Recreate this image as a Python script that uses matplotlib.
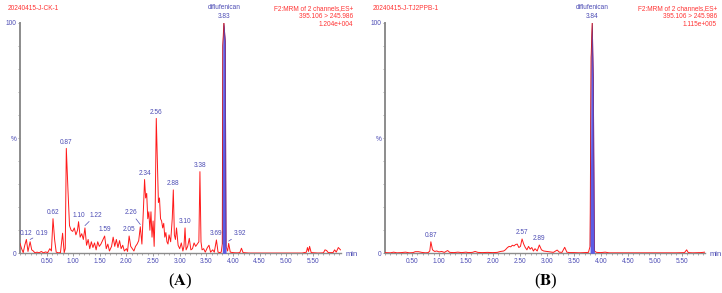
import numpy as np
import matplotlib
matplotlib.use("Agg")
import matplotlib.pyplot as plt
from matplotlib.ticker import MultipleLocator, FixedLocator

plt.rcParams['font.family'] = ['Liberation Sans', 'DejaVu Sans']
plt.rcParams['mathtext.fontset'] = 'stix'

# colours
trace_red = "#ff1a1a"
label_blue = "#4b4bb4"
text_red = "#ff3333"
axis_gray = "#8c8c8c"
peak_blue = "#5c5ce6"

# panel A: 20240415-J-CK-1 (time in min, relative intensity %)
time_a = [0.00, 0.03, 0.06, 0.09, 0.12, 0.15, 0.19, 0.22, 0.25, 0.28, 0.32, 0.36, 0.40, 0.44,
          0.48, 0.52, 0.56, 0.59, 0.62, 0.65, 0.68, 0.72, 0.76, 0.80, 0.83, 0.85, 0.87, 0.90,
          0.93, 0.96, 0.99, 1.02, 1.05, 1.08, 1.10, 1.13, 1.16, 1.19, 1.22, 1.25, 1.28, 1.31,
          1.34, 1.37, 1.40, 1.43, 1.46, 1.49, 1.52, 1.55, 1.59, 1.62, 1.65, 1.68, 1.72, 1.75,
          1.78, 1.81, 1.84, 1.87, 1.90, 1.93, 1.96, 2.00, 2.02, 2.05, 2.08, 2.11, 2.14, 2.17,
          2.20, 2.23, 2.26, 2.29, 2.32, 2.34, 2.36, 2.38, 2.40, 2.42, 2.44, 2.46, 2.48, 2.50,
          2.52, 2.54, 2.56, 2.58, 2.60, 2.62, 2.64, 2.66, 2.68, 2.70, 2.72, 2.74, 2.76, 2.78,
          2.80, 2.83, 2.86, 2.88, 2.90, 2.92, 2.94, 2.97, 3.00, 3.03, 3.06, 3.08, 3.10, 3.12,
          3.15, 3.18, 3.21, 3.24, 3.27, 3.30, 3.33, 3.36, 3.38, 3.40, 3.42, 3.45, 3.48, 3.52,
          3.55, 3.58, 3.62, 3.65, 3.69, 3.72, 3.75, 3.78, 3.80, 3.81, 3.83, 3.855, 3.87, 3.90,
          3.92, 3.95, 4.00, 4.05, 4.10, 4.13, 4.16, 4.19, 4.30, 4.60, 5.00, 5.30, 5.38, 5.40,
          5.42, 5.44, 5.47, 5.60, 5.70, 5.73, 5.76, 5.79, 5.88, 5.91, 5.94, 5.98, 6.02]
inten_a = [4.3, 2.0, 0.3, 3.5, 6.0, 0.8, 5.0, 1.5, 1.0, 0.2, 0.5, 0.2, 0.8, 0.2,
           0.6, 0.3, 2.0, 1.0, 15.0, 6.0, 0.5, 0.2, 0.3, 8.7, 0.3, 2.0, 45.5, 28.0,
           12.0, 10.0, 9.5, 11.0, 8.0, 10.0, 13.7, 7.0, 8.5, 6.0, 11.0, 3.5, 6.0, 2.0,
           5.0, 2.5, 4.5, 1.5, 5.0, 3.0, 4.0, 5.5, 7.5, 2.0, 4.0, 1.0, 3.0, 7.0,
           3.0, 6.0, 2.5, 5.5, 2.0, 3.5, 1.0, 2.0, 0.8, 7.5, 3.0, 2.0, 1.0, 3.0,
           4.0, 5.5, 11.5, 4.0, 20.0, 32.0, 24.0, 26.0, 15.0, 18.0, 10.0, 18.0, 7.0, 14.0,
           3.0, 20.0, 58.5, 40.0, 22.0, 24.0, 15.0, 14.0, 11.0, 13.0, 7.0, 9.0, 5.0, 4.0,
           8.0, 5.0, 15.0, 27.5, 8.0, 6.0, 11.0, 3.5, 2.0, 4.5, 1.0, 3.0, 11.0, 1.5,
           3.0, 6.5, 1.5, 2.0, 4.5, 3.0, 4.0, 5.0, 35.4, 5.0, 1.5, 2.0, 0.5, 2.5,
           3.5, 0.5, 1.5, 0.5, 5.8, 0.5, 0.3, 0.5, 4.0, 90.0, 100.0, 92.0, 3.0, 1.0,
           4.3, 0.5, 0.3, 0.2, 0.2, 0.3, 2.2, 0.3, 0.1, 0.1, 0.1, 0.1, 0.5, 2.5,
           0.8, 3.0, 0.3, 0.1, 0.2, 1.5, 1.2, 0.3, 0.3, 1.5, 0.5, 2.5, 1.5]
peaks_a = [0.12, 0.19, 0.62, 0.87, 1.10, 1.22, 1.59, 2.05, 2.26, 2.34, 2.56, 2.88, 3.10, 3.38, 3.69, 3.92]
# label offsets in points (dx, dy); leader line drawn when dx != 0
offsets_a = [(0, 2), (4, 2), (0, 2), (0, 2), (0, 2), (3, 5), (0, 2), (0, 2),
             (-2, 6), (0, 2), (0, 2), (0, 2), (0, 2), (0, 2), (0, 2), (4, 3)]

# panel B: 20240415-J-TJ2PPB-1
time_b = [0.00, 0.10, 0.16, 0.22, 0.30, 0.38, 0.45, 0.52, 0.56, 0.62, 0.68, 0.75, 0.80, 0.83,
          0.85, 0.88, 0.92, 0.96, 1.00, 1.05, 1.10, 1.16, 1.20, 1.28, 1.35, 1.42, 1.50, 1.55,
          1.62, 1.67, 1.72, 1.80, 1.90, 2.00, 2.08, 2.14, 2.20, 2.23, 2.27, 2.30, 2.33, 2.36,
          2.39, 2.42, 2.45, 2.48, 2.51, 2.54, 2.57, 2.60, 2.63, 2.66, 2.69, 2.72, 2.75, 2.78,
          2.82, 2.86, 2.90, 2.94, 3.00, 3.06, 3.12, 3.19, 3.23, 3.28, 3.33, 3.37, 3.42, 3.50,
          3.60, 3.70, 3.77, 3.80, 3.82, 3.84, 3.86, 3.88, 3.92, 4.00, 4.08, 4.15, 4.50, 5.00,
          5.40, 5.55, 5.59, 5.62, 5.70, 5.85, 5.93]
inten_b = [0.3, 0.2, 0.5, 0.2, 0.3, 0.5, 0.2, 0.3, 0.7, 0.7, 0.4, 0.2, 0.3, 1.0,
           5.0, 1.5, 0.8, 1.0, 0.6, 0.8, 0.4, 1.2, 0.4, 0.3, 0.5, 0.3, 0.5, 0.3,
           0.4, 0.8, 0.4, 0.3, 0.4, 0.3, 0.4, 0.8, 1.0, 1.5, 2.5, 3.0, 2.8, 3.5,
           3.2, 3.8, 4.0, 2.5, 3.0, 6.2, 4.0, 2.5, 1.5, 3.0, 1.8, 2.5, 1.0, 2.0,
           1.0, 3.6, 1.5, 1.0, 0.8, 0.6, 0.4, 1.4, 0.5, 0.4, 2.6, 0.5, 0.3, 0.3,
           0.2, 0.3, 0.4, 3.0, 85.0, 100.0, 75.0, 1.0, 0.4, 0.3, 0.5, 0.2, 0.2, 0.2,
           0.2, 0.3, 1.5, 0.3, 0.2, 0.3, 0.5]
peaks_b = [0.85, 2.54, 2.86]
labels_b = ["0.87", "2.57", "2.89"]
offsets_b = [(0, 2), (0, 2), (0, 2)]

panels = [
    dict(t=time_a, y=inten_a, peaks=peaks_a, labels=[f"{p:.2f}" for p in peaks_a], offs=offsets_a,
         main=3.83, main_lbl="3.83", name="20240415-J-CK-1", scale="1.204e+004",
         rect=[20 / 722, 0.1355, 321 / 722, 0.787], xmax=6.03, tag="A", tag_x=180 / 722),
    dict(t=time_b, y=inten_b, peaks=peaks_b, labels=labels_b, offs=offsets_b,
         main=3.84, main_lbl="3.84", name="20240415-J-TJ2PPB-1", scale="1.115e+005",
         rect=[385 / 722, 0.1355, 320 / 722, 0.787], xmax=5.93, tag="B", tag_x=546 / 722),
]

fig = plt.figure(figsize=(7.22, 2.93), dpi=100)
fs = 4.7

for p in panels:
    ax = fig.add_axes(p["rect"])
    t = np.array(p["t"])
    y = np.array(p["y"])

    # main diflufenican peak filled in blue, drawn over the red trace
    m = (t >= p["main"] - 0.04) & (t <= p["main"] + 0.05)
    ax.plot(t, y, color=trace_red, lw=0.7, zorder=3)
    ax.fill_between(t[m], 0, y[m], color=peak_blue, lw=0, zorder=4)
    ax.plot(t[m], y[m], color="#7a2050", lw=0.35, zorder=5)

    ax.set_xlim(0, p["xmax"])
    ax.set_ylim(0, 100)
    for s in ["top", "right"]:
        ax.spines[s].set_visible(False)
    ax.spines["left"].set_color(axis_gray)
    ax.spines["left"].set_linewidth(1.4)
    ax.spines["bottom"].set_color(axis_gray)
    ax.spines["bottom"].set_linewidth(1.0)

    ax.xaxis.set_major_locator(FixedLocator(np.arange(0.5, 5.51, 0.5)))
    ax.xaxis.set_minor_locator(MultipleLocator(0.1))
    ax.set_xticklabels([f"{v:.2f}" for v in np.arange(0.5, 5.51, 0.5)])
    ax.yaxis.set_major_locator(FixedLocator([0, 50, 100]))
    ax.yaxis.set_minor_locator(MultipleLocator(10))
    ax.set_yticklabels(["0", "%", "100"])
    ax.tick_params(axis="both", which="major", colors=axis_gray, labelcolor=label_blue,
                   labelsize=fs, length=2.2, width=0.6, pad=1.2)
    ax.tick_params(axis="both", which="minor", colors=axis_gray, length=1.3, width=0.5)
    ax.tick_params(axis="y", which="major", length=1.3, pad=1)

    ax.annotate("min", xy=(1, 0), xycoords="axes fraction", xytext=(3, -1),
                textcoords="offset points", va="center", ha="left", fontsize=5.5, color=label_blue)

    # peak labels
    ti = list(np.round(t, 2))
    for pk, lb, (dx, dy) in zip(p["peaks"], p["labels"], p["offs"]):
        h = y[ti.index(round(pk, 2))]
        if dx == 0:
            ax.annotate(lb, xy=(pk, h), xytext=(dx, dy), textcoords="offset points",
                        ha="center", va="bottom", fontsize=fs, color=label_blue)
        else:
            ax.annotate(lb, xy=(pk, h + 1), xytext=(dx, dy), textcoords="offset points",
                        ha="left" if dx > 0 else "right", va="bottom", fontsize=fs, color=label_blue,
                        arrowprops=dict(arrowstyle="-", color=label_blue, lw=0.5, shrinkA=0, shrinkB=0))

    ax.annotate(p["main_lbl"], xy=(p["main"], 100), xytext=(0, 2), textcoords="offset points",
                ha="center", va="bottom", fontsize=fs, color=label_blue, annotation_clip=False)
    ax.annotate("diflufenican", xy=(p["main"], 100), xytext=(0, 8.5), textcoords="offset points",
                ha="center", va="bottom", fontsize=fs, color=label_blue, annotation_clip=False)

    # header texts
    x0 = p["rect"][0]
    x1 = p["rect"][0] + p["rect"][2]
    fig.text(x0 - 12 / 722, 1 - 9 / 293, p["name"], fontsize=fs, color=text_red, va="center", ha="left")
    fig.text(x1 + 12 / 722, 1 - 9 / 293, "F2:MRM of 2 channels,ES+", fontsize=fs, color=text_red,
             va="center", ha="right")
    fig.text(x1 + 12 / 722, 1 - 17 / 293, "395.106 > 245.986", fontsize=fs, color=text_red,
             va="center", ha="right")
    fig.text(x1 + 12 / 722, 1 - 24.5 / 293, p["scale"], fontsize=fs, color=text_red,
             va="center", ha="right")

    fig.text(p["tag_x"], 1 - 281 / 293, "($\\mathbf{" + p["tag"] + "}$)", fontsize=12,
             family="Liberation Serif", ha="center", va="center", color="black")

fig.savefig("out.png", dpi=100)
